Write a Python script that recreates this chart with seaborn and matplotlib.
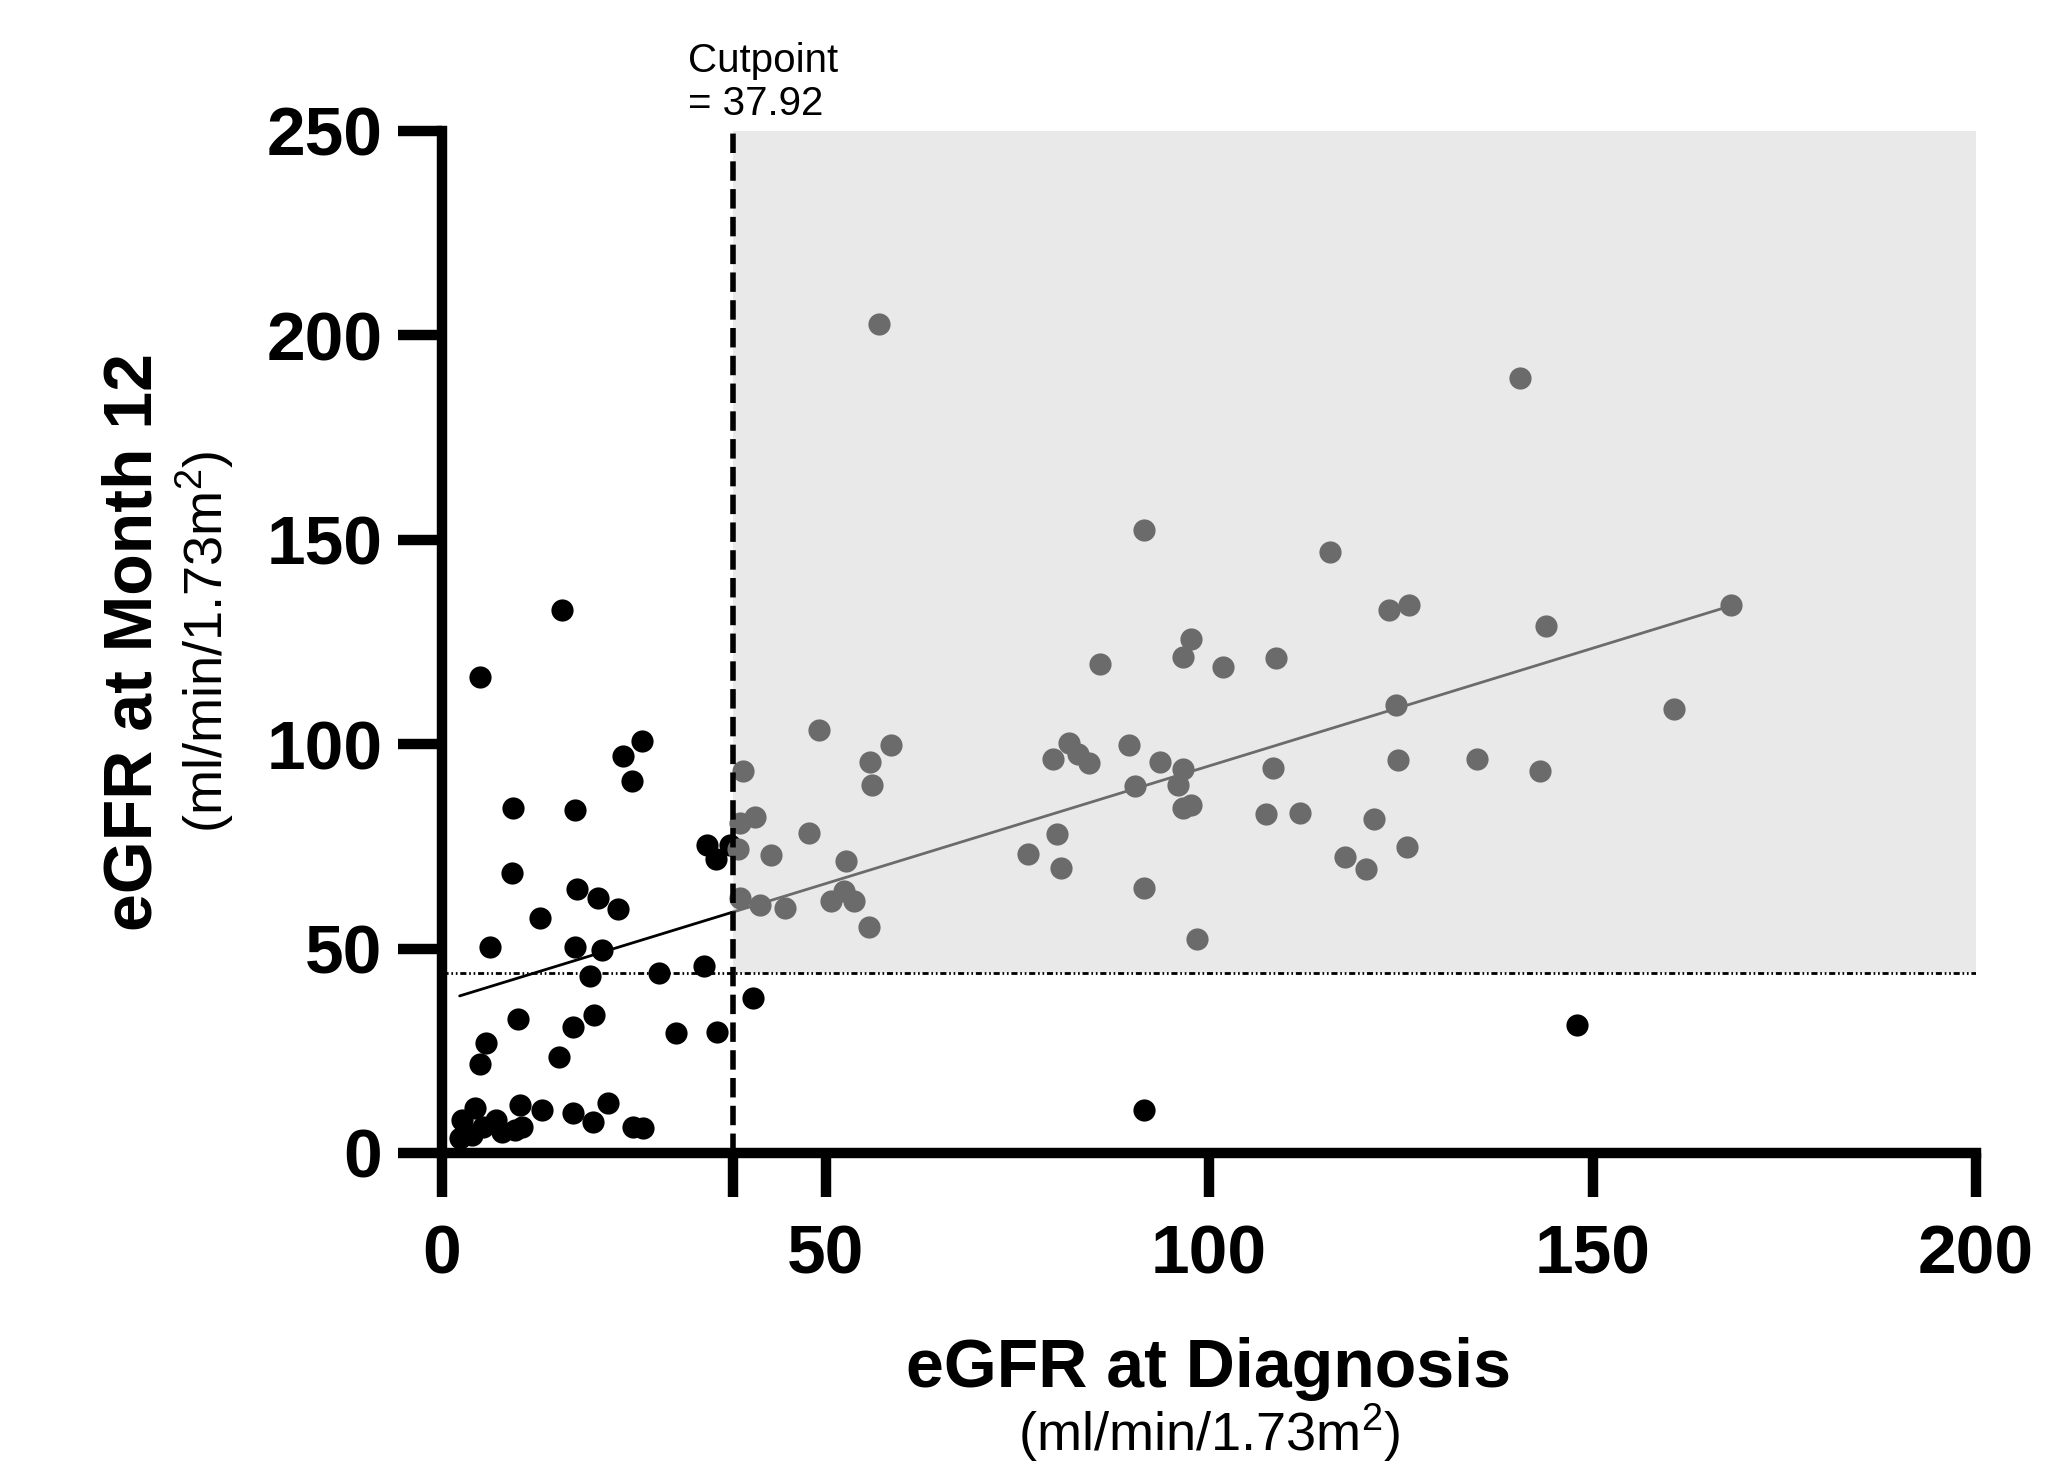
import seaborn as sns
import pandas as pd
import matplotlib.pyplot as plt
import numpy as np

#-----------------------------------------------------------------------------------------------------------------------
"""Data read off the figure"""
# eGFR at diagnosis (x) and at month 12 (y), one entry per patient
egfr_diag = [26.1, 23.6, 24.8, 9.2, 17.4, 9.1, 17.6, 20.4, 23.0, 12.8, 6.3, 17.4, 20.8, 19.3, 28.3, 34.1,
             34.5, 35.7, 37.6, 40.5, 9.9, 17.1, 19.8, 5.8, 5.0, 15.2, 30.5, 35.8, 15.6, 5.0, 91.5, 148.0,
             21.7, 13.0, 10.2, 17.1, 19.7, 24.9, 26.2, 4.3, 2.6, 2.3, 3.9, 5.4, 7.1, 7.8, 10.4, 9.5,
             57.0, 140.6, 91.5, 115.8, 123.5, 126.1, 143.9, 168.1, 97.6, 96.6, 85.8, 101.8, 108.7, 124.4,
             160.6, 81.7, 79.6, 82.9, 84.3, 89.6, 93.6, 96.6, 96.0, 90.3, 96.6, 97.7, 108.3, 124.6, 134.9,
             143.1, 107.4, 111.8, 121.5, 125.8, 117.7, 120.5, 76.4, 80.2, 80.7, 91.5, 98.4, 49.2, 39.3,
             40.8, 38.8, 38.6, 42.9, 47.9, 52.7, 55.8, 58.6, 56.1, 38.8, 41.5, 44.7, 50.7, 52.4, 53.7, 55.7]
egfr_m12 = [100.9, 97.1, 91.1, 84.5, 83.9, 68.5, 64.7, 62.5, 59.7, 57.6, 50.5, 50.5, 49.7, 43.3, 44.1, 45.7,
            75.3, 71.8, 75.3, 37.8, 32.7, 30.9, 33.7, 27.0, 21.7, 23.4, 29.3, 29.7, 132.9, 116.5, 10.6, 31.4,
            12.2, 10.5, 11.7, 9.7, 7.7, 6.4, 6.0, 10.9, 8.1, 3.6, 4.4, 6.4, 8.1, 5.2, 6.4, 5.6,
            202.8, 189.5, 152.4, 147.0, 132.8, 134.0, 128.8, 134.0, 125.8, 121.4, 119.5, 118.8, 121.2, 109.7,
            108.5, 100.3, 96.5, 97.5, 95.3, 99.7, 95.7, 94.0, 90.0, 89.8, 84.3, 85.1, 94.3, 96.1, 96.3,
            93.4, 83.0, 83.2, 81.8, 74.9, 72.5, 69.4, 73.2, 78.0, 69.7, 64.9, 52.4, 103.5, 93.5,
            82.3, 80.8, 74.3, 72.9, 78.4, 71.4, 95.6, 99.7, 90.0, 62.5, 60.7, 59.9, 61.6, 64.1, 61.7, 55.2]

cutpoint_x = 37.92
cutpoint_y = 44
x_ticks = [0, 50, 100, 150, 200]
y_ticks = [0, 50, 100, 150, 200, 250]

df = pd.DataFrame({'diag': egfr_diag, 'm12': egfr_m12})
df['good'] = (df['diag'] > cutpoint_x) & (df['m12'] > cutpoint_y)

#-----------------------------------------------------------------------------------------------------------------------
"""Creating the Figure"""
sns.set_style('ticks')
plt.rcParams['font.family'] = ['Liberation Sans', 'DejaVu Sans']
plt.rcParams['mathtext.fontset'] = 'custom'
plt.rcParams['mathtext.rm'] = 'Liberation Sans'
plt.rcParams['mathtext.it'] = 'Liberation Sans:italic'
plt.rcParams['mathtext.bf'] = 'Liberation Sans:bold'
plt.rcParams['text.color'] = 'black'
plt.rcParams['axes.edgecolor'] = 'black'
plt.rcParams['xtick.color'] = 'black'
plt.rcParams['ytick.color'] = 'black'

W, H = 2057, 1467
fig = plt.figure(figsize=(W / 100, H / 100), dpi=100)
fig.patch.set_facecolor('white')
ax = fig.add_axes([442 / W, (H - 1153) / H, (1976 - 442) / W, (1153 - 131) / H])

grey = '#6b6b6b'

#-----------------------------------------------------------------------------------------------------------------------
"""Background region and reference lines"""
ax.fill_between([cutpoint_x, 200], cutpoint_y, 250, color='#e9e9e9', lw=0, zorder=0)
ax.axhline(cutpoint_y, color='black', lw=2, linestyle=(0, (2.2, 1.0, 0.6, 1.0, 0.6, 1.0)), zorder=1)

#-----------------------------------------------------------------------------------------------------------------------
"""Plotting Points"""
sns.scatterplot(data=df[~df['good']], x='diag', y='m12', color='black', s=255, linewidth=0, ax=ax, zorder=3)
sns.scatterplot(data=df[df['good']], x='diag', y='m12', color=grey, s=255, linewidth=0, ax=ax, zorder=3)

# linear fit over all patients, black left of cutpoint, grey right of it
slope, icpt = np.polyfit(df['diag'], df['m12'], 1)
xa = np.array([df['diag'].min(), cutpoint_x])
xb = np.array([cutpoint_x, df['diag'].max()])
ax.plot(xa, icpt + slope * xa, color='black', lw=2, zorder=4)
ax.plot(xb, icpt + slope * xb, color=grey, lw=2, zorder=4)

ax.axvline(cutpoint_x, color='black', lw=4, linestyle=(0, (3.5, 1.5)), zorder=5)

#-----------------------------------------------------------------------------------------------------------------------
"""Making the graph look nice"""
ax.set_facecolor('white')
ax.set_xlim(0, 200)
ax.set_ylim(0, 250)
ax.set_xticks(x_ticks)
ax.set_yticks(y_ticks)
ax.set_xticks([cutpoint_x], minor=True)
ax.set_xlabel('')
ax.set_ylabel('')
ax.spines['top'].set_visible(False)
ax.spines['right'].set_visible(False)
ax.spines['left'].set_linewidth(7.5)
ax.spines['bottom'].set_linewidth(7.5)
ax.tick_params(axis='both', which='both', length=32, width=7.5, color='black', labelcolor='black')
ax.tick_params(axis='x', pad=19)
ax.tick_params(axis='y', pad=11)
for lab in ax.get_xticklabels() + ax.get_yticklabels():
    lab.set_fontsize(50)
    lab.set_fontweight('bold')

ax.text(32.1, 264.5, 'Cutpoint', fontsize=29, ha='left', va='baseline')
ax.text(32.1, 253.9, '= 37.92', fontsize=29, ha='left', va='baseline')

# axis titles with units underneath
fig.text(1209 / W, (H - 1387) / H, 'eGFR at Diagnosis', fontsize=49, fontweight='bold',
         ha='center', va='baseline')
fig.text(1209 / W, (H - 1451) / H, '(ml/min/1.73m$^2$)', fontsize=39, ha='center', va='baseline')
fig.text(152 / W, (H - 642) / H, 'eGFR at Month 12', fontsize=49, fontweight='bold', rotation=90,
         rotation_mode='anchor', ha='center', va='baseline')
fig.text(223 / W, (H - 642) / H, '(ml/min/1.73m$^2$)', fontsize=39, rotation=90,
         rotation_mode='anchor', ha='center', va='baseline')

#-----------------------------------------------------------------------------------------------------------------------
"""Saving the Graph"""
fig.savefig('out.png', dpi=100)
